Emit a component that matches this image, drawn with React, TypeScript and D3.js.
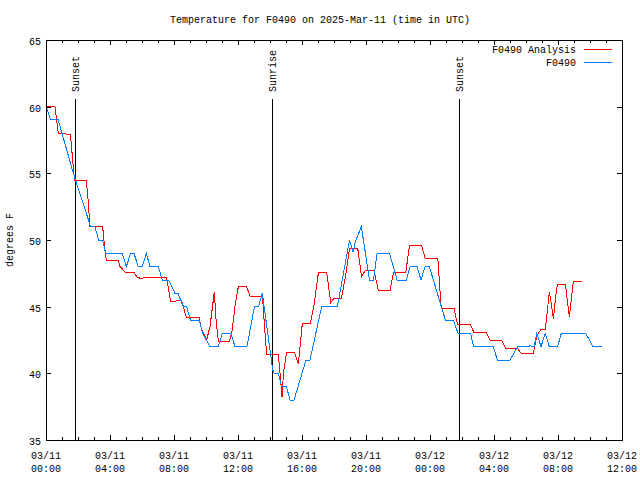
import React from "react";
import * as d3 from "d3";

// hours since 2025-03-11 00:00 UTC
const analysisHours = [0.0,0.56,0.66,0.78,0.97,1.53,1.63,1.78,2.52,2.63,2.75,3.54,3.66,3.77,4.5,4.63,4.83,4.94,5.5,5.69,6.0,6.13,7.54,7.66,7.79,8.48,8.63,8.77,9.56,9.73,9.89,10.04,10.25,10.52,10.63,10.77,11.46,11.63,11.81,12.02,12.54,12.77,13.53,13.66,13.79,14.52,14.63,14.75,14.84,15.04,15.53,15.77,15.88,16.02,16.52,16.75,17.03,17.54,17.8,17.97,18.46,18.75,18.97,19.48,19.72,19.95,20.5,20.78,21.5,21.72,22.49,22.72,23.47,23.7,24.49,24.7,25.5,25.71,26.52,26.73,27.5,27.75,28.48,28.73,29.46,29.69,30.46,30.63,30.77,30.94,31.21,31.46,31.53,31.71,31.92,31.98,32.46,32.71,32.96,33.48];
const analysisTemps = [60.0,60.0,59.0,57.95,58.0,57.9,56.5,54.45,54.45,53.0,51.0,51.0,49.5,48.45,48.5,48.0,47.75,47.6,47.6,47.2,47.1,47.2,47.2,46.3,45.4,45.45,44.8,44.2,44.2,43.25,42.9,42.5,43.5,46.1,44.0,42.4,42.4,43.2,45.0,46.5,46.5,45.75,45.75,43.5,41.4,41.4,40.0,38.2,40.0,41.6,41.6,40.7,42.0,43.75,43.75,45.1,47.6,47.6,45.3,45.6,45.6,47.5,49.4,49.4,47.25,47.7,47.7,46.2,46.2,47.6,47.6,49.6,49.6,48.6,48.6,44.9,44.9,43.7,43.7,43.1,43.1,42.5,42.5,41.9,41.9,41.5,41.5,42.5,43.0,43.3,43.3,46.1,45.6,44.1,46.4,46.7,46.7,44.2,46.9,46.9];

const obsHours = [0.0,0.29,0.75,1.71,2.79,3.06,3.28,3.53,3.73,4.77,5.02,5.29,5.5,5.77,6.02,6.27,6.5,7.02,7.27,7.66,8.06,8.25,8.58,8.78,9.03,9.58,9.79,10.25,10.77,11.02,11.56,11.81,12.56,13.03,13.28,13.52,14.17,14.27,14.52,14.73,15.03,15.25,15.5,16.25,16.5,17.23,18.21,18.97,19.19,19.34,19.71,20.22,20.47,20.69,21.47,21.94,22.53,22.75,23.19,23.44,23.69,23.96,24.96,25.46,25.75,26.54,26.72,27.96,28.21,29.0,29.48,30.19,30.25,30.34,30.5,30.67,30.94,31.2,31.46,31.97,32.21,33.73,34.19,34.73];
const obsTemps = [60.0,59.05,59.05,55.0,51.0,51.0,50.0,50.0,49.0,49.0,48.0,49.0,49.0,48.0,48.0,49.0,48.0,48.0,47.0,47.0,46.0,46.0,45.0,45.0,44.0,44.0,43.0,42.0,42.0,43.0,43.0,42.0,42.0,45.0,45.0,46.0,40.25,40.0,40.0,39.0,39.0,38.0,38.0,41.0,41.0,45.0,45.0,50.0,49.1,49.9,51.0,47.0,47.0,49.0,49.0,47.0,47.0,48.0,48.0,47.0,48.0,48.0,44.0,44.0,43.0,43.0,42.0,42.0,41.0,41.0,42.0,42.0,42.15,42.0,42.0,43.0,42.0,43.0,42.0,42.0,43.0,43.0,42.0,42.0];

const eventHours = [1.81, 14.14, 25.83];
const eventLabels = ["Sunset", "Sunrise", "Sunset"];

const xTickHours = [0, 4, 8, 12, 16, 20, 24, 28, 32, 36];
const xTickDates = ["03/11", "03/11", "03/11", "03/11", "03/11", "03/11", "03/12", "03/12", "03/12", "03/12"];
const xTickTimes = ["00:00", "04:00", "08:00", "12:00", "16:00", "20:00", "00:00", "04:00", "08:00", "12:00"];
const yTicks = [35, 40, 45, 50, 55, 60, 65];

const seriesNames = ["F0490 Analysis", "F0490"];
const seriesColors = ["#ff0000", "#0080ff"];

const FONT = "'Liberation Mono', 'DejaVu Sans Mono', monospace";

export default function App() {
  const L = 46, R = 622, T = 40, B = 440;
  const x = d3.scaleLinear().domain([0, 36]).range([L, R]);
  const y = d3.scaleLinear().domain([35, 65]).range([B, T]);

  const red = analysisHours.map((h, i) => [h, analysisTemps[i]] as [number, number]);
  const blue = obsHours.map((h, i) => [h, obsTemps[i]] as [number, number]);
  const line = d3.line<[number, number]>().x(d => x(d[0])).y(d => y(d[1]));

  const hourTicks = d3.range(0, 37);

  return (
    <svg width={640} height={480} style={{ position: "absolute", left: 0, top: 0, background: "#fff" }}
      fontFamily={FONT} fontSize={10}>
      <rect x={0} y={0} width={640} height={480} fill="#fff" />
      <text x={320} y={23} textAnchor="middle">Temperature for F0490 on 2025-Mar-11 (time in UTC)</text>

      {/* x ticks (hourly minor, 4-hour major), bottom and top */}
      {hourTicks.map(h => {
        const len = h % 4 === 0 ? 5 : 3;
        const xp = Math.round(x(h)) + 0.5;
        return (
          <g key={"xt" + h} stroke="#000" strokeWidth={1} shapeRendering="crispEdges">
            <line x1={xp} x2={xp} y1={B} y2={B - len} />
            <line x1={xp} x2={xp} y1={T} y2={T + len} />
          </g>
        );
      })}
      {yTicks.map(v => {
        const yp = Math.round(y(v)) + 0.5;
        return (
          <g key={"yt" + v}>
            <line x1={L} x2={L + 5} y1={yp} y2={yp} stroke="#000" shapeRendering="crispEdges" />
            <line x1={R} x2={R - 5} y1={yp} y2={yp} stroke="#000" shapeRendering="crispEdges" />
            <text x={L - 5} y={yp + 4} textAnchor="end">{v}</text>
          </g>
        );
      })}
      {xTickHours.map((h, i) => (
        <g key={"xl" + h}>
          <text x={x(h)} y={459} textAnchor="middle">{xTickDates[i]}</text>
          <text x={x(h)} y={472} textAnchor="middle">{xTickTimes[i]}</text>
        </g>
      ))}

      <text transform={`translate(13,${(T + B) / 2}) rotate(-90)`} textAnchor="middle">degrees F</text>

      {/* event lines */}
      {eventHours.map((h, i) => {
        const xp = Math.round(x(h)) + 0.5;
        return (
          <g key={"ev" + i}>
            <line x1={xp} x2={xp} y1={99} y2={B} stroke="#000" shapeRendering="crispEdges" />
            <text transform={`translate(${xp + 3.5},92) rotate(-90)`} textAnchor="start">{eventLabels[i]}</text>
          </g>
        );
      })}

      <path d={line(red) || ""} fill="none" stroke={seriesColors[0]} strokeWidth={1} shapeRendering="crispEdges" />
      <path d={line(blue) || ""} fill="none" stroke={seriesColors[1]} strokeWidth={1} shapeRendering="crispEdges" />

      {/* legend */}
      {seriesNames.map((n, i) => (
        <g key={"lg" + i}>
          <text x={576} y={53 + i * 13} textAnchor="end">{n}</text>
          <line x1={584} x2={612} y1={49.5 + i * 13} y2={49.5 + i * 13} stroke={seriesColors[i]} shapeRendering="crispEdges" />
        </g>
      ))}

      {/* frame */}
      <rect x={L + 0.5} y={T + 0.5} width={R - L} height={B - T} fill="none" stroke="#000" shapeRendering="crispEdges" />
    </svg>
  );
}
